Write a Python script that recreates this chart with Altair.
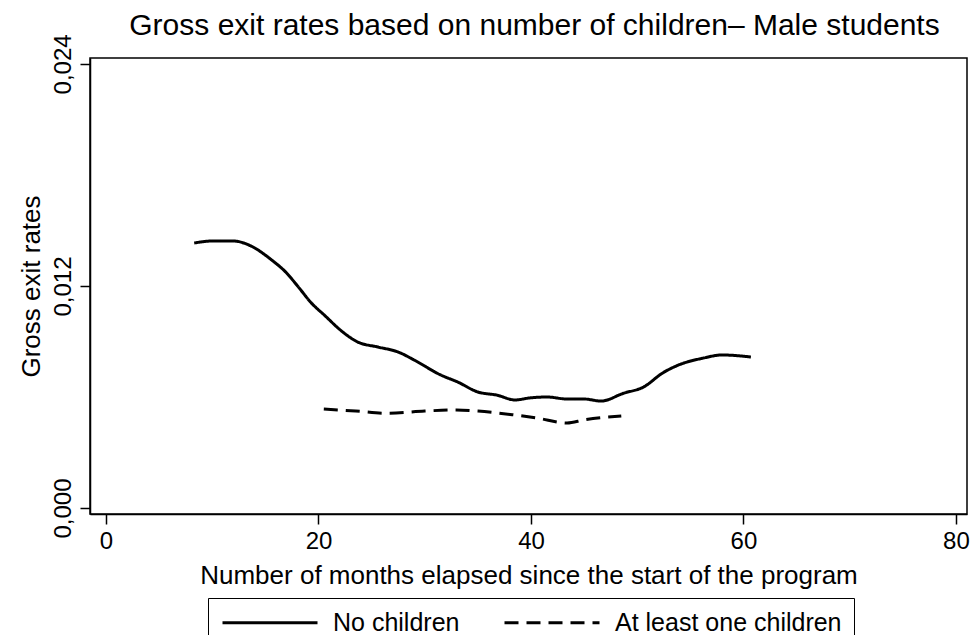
import altair as alt
import pandas as pd

# No children (solid)
months_no = [8.3, 10.0, 12.0, 13.5, 15.6, 16.9, 18.1, 19.3, 20.6, 22.1, 23.7, 25.6, 27.5, 29.0,
             31.5, 33.1, 35.0, 36.8, 38.5, 39.9, 41.5, 43.4, 45.0, 46.6, 48.7, 50.6, 52.4,
             53.9, 56.2, 58.0, 60.7]
rates_no = [0.01432, 0.01443, 0.01443, 0.01420, 0.01340, 0.01276, 0.01195, 0.01110, 0.01040,
            0.00960, 0.00897, 0.00870, 0.00843, 0.00800, 0.00719, 0.00681, 0.00627, 0.00610,
            0.00584, 0.00595, 0.00600, 0.00589, 0.00589, 0.00578, 0.00620, 0.00654, 0.00730,
            0.00773, 0.00810, 0.00827, 0.00816]

# At least one children (dashed)
months_ch = [20.5, 23.5, 26.5, 30.0, 33.0, 35.0, 38.4, 40.6, 43.4, 45.0, 48.5]
rates_ch = [0.00535, 0.00524, 0.00512, 0.00524, 0.00530, 0.00524, 0.00503, 0.00486,
            0.00459, 0.00476, 0.00497]

series = ["No children", "At least one children"]
x_ticks = [0, 20, 40, 60, 80]
y_ticks = [0.0, 0.012, 0.024]

df = pd.concat([
    pd.DataFrame({"month": months_no, "rate": rates_no, "group": series[0]}),
    pd.DataFrame({"month": months_ch, "rate": rates_ch, "group": series[1]}),
])

FONT = "Liberation Sans"

chart = alt.Chart(df).mark_line(color="black", strokeWidth=3, interpolate="monotone").encode(
    x=alt.X("month:Q",
            scale=alt.Scale(domain=[-1.506, 81.04], nice=False, zero=False),
            axis=alt.Axis(values=x_ticks, title="Number of months elapsed since the start of the program",
                          grid=False, tickSize=10, tickWidth=1.5, tickColor="black",
                          domainColor="black", domainWidth=1.5,
                          labelFontSize=24, labelPadding=5, labelColor="black", labelFont=FONT,
                          titleFontSize=26, titleFontWeight="normal", titleFont=FONT, titleColor="black",
                          titlePadding=9, labelFlush=False)),
    y=alt.Y("rate:Q",
            scale=alt.Scale(domain=[-0.000324, 0.02432], nice=False, zero=False),
            axis=alt.Axis(values=y_ticks, title="Gross exit rates",
                          labelExpr="replace(format(datum.value, '.3f'), '.', ',')",
                          grid=False, tickSize=10, tickWidth=1.5, tickColor="black",
                          domainColor="black", domainWidth=1.5,
                          labelAngle=270, labelFontSize=24, labelPadding=5, labelColor="black",
                          labelFont=FONT, labelFlush=False,
                          titleFontSize=26, titleFontWeight="normal", titleFont=FONT, titleColor="black",
                          titlePadding=7)),
    strokeDash=alt.StrokeDash("group:N",
                              scale=alt.Scale(domain=series, range=[[1, 0], [14, 8]]),
                              legend=alt.Legend(title=None, orient="none", direction="horizontal",
                                                legendX=118, legendY=540,
                                                strokeColor="black", padding=12,
                                                symbolType="M-1,0H8.5", symbolSize=400,
                                                symbolStrokeWidth=3, symbolStrokeColor="black",
                                                labelFontSize=25, labelFont=FONT, labelColor="black",
                                                labelOffset=88, columnPadding=38, labelLimit=500)),
    order=alt.Order("month:Q"),
).properties(
    width=877,
    height=456,
    title=alt.TitleParams("Gross exit rates based on number of children\u2013 Male students",
                          fontSize=30, font=FONT, fontWeight="normal", color="black",
                          anchor="middle", offset=20, dx=6, dy=27),
    autosize=alt.AutoSizeParams(type="none"),
    padding={"left": 82, "top": 50, "right": 3, "bottom": 121},
).configure(background="white").configure_view(stroke="black", strokeWidth=1.5)

chart.save("out.html", embed_options={"renderer": "svg", "actions": False})
